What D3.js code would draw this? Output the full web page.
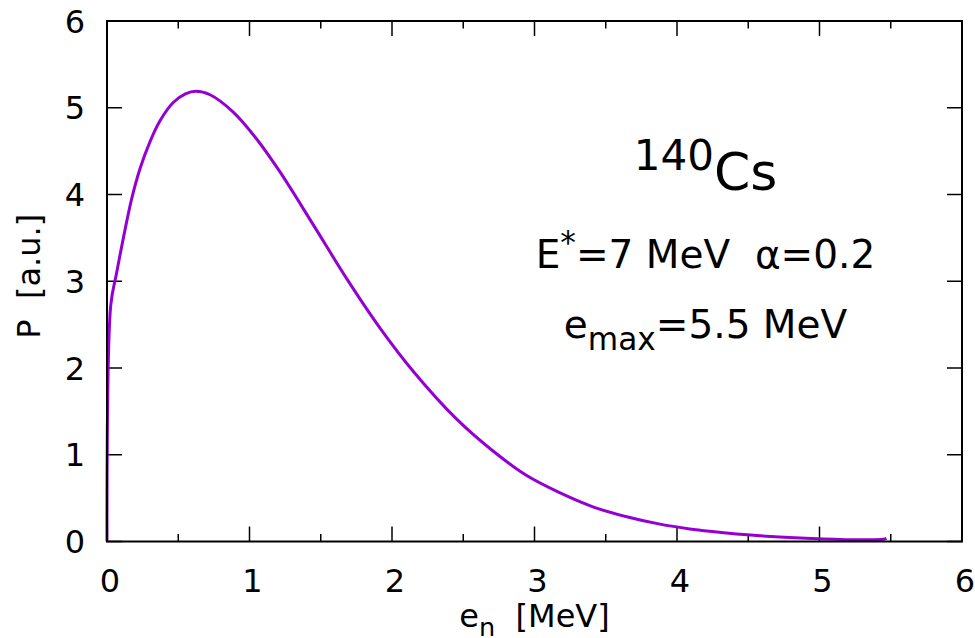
<!DOCTYPE html>
<html>
<head>
<meta charset="utf-8">
<script src="https://cdn.jsdelivr.net/npm/d3@7"></script>
<style>
  html, body { margin: 0; padding: 0; background: #fff; }
  svg { display: block; }
  text { font-family: "DejaVu Sans", sans-serif; fill: #000; white-space: pre; }
</style>
</head>
<body>
<svg id="chart" width="975" height="638"></svg>
<script>
// ---- data ----
const energy = [0, 0.026, 0.068, 0.115, 0.173, 0.232, 0.302, 0.372, 0.465, 0.55, 0.625, 0.723, 0.886, 1.05, 1.214, 1.448, 1.682, 1.916, 2.15, 2.454, 2.711, 2.945, 3.18, 3.41, 3.647, 3.88, 4.09, 4.23, 4.56, 5.03, 5.3, 5.45, 5.47];
const prob   = [0, 2.72, 3.10, 3.50, 3.95, 4.30, 4.61, 4.85, 5.06, 5.16, 5.19, 5.15, 4.95, 4.64, 4.26, 3.65, 3.03, 2.46, 1.96, 1.41, 1.04, 0.76, 0.56, 0.40, 0.285, 0.20, 0.145, 0.118, 0.068, 0.03, 0.02, 0.025, 0.035];
const xTicks = [0, 1, 2, 3, 4, 5, 6];
const xMinorTicks = [0.5, 1.5, 2.5, 3.5, 4.5, 5.5];
const yTicks = [0, 1, 2, 3, 4, 5, 6];
const xDomain = [0, 6];
const yDomain = [0, 6];

const svg = d3.select("#chart");
const W = 975, H = 638;
const m = { left: 107, right: 13, top: 21, bottom: 96.5 };

svg.append("rect").attr("width", W).attr("height", H).attr("fill", "#fff");

const x = d3.scaleLinear().domain(xDomain).range([m.left, W - m.right]);
const y = d3.scaleLinear().domain(yDomain).range([H - m.bottom, m.top]);

const tickFont = 32;
const major = 15, minor = 7.5;
const axisG = svg.append("g").attr("stroke", "#000").attr("stroke-width", 1.5);

// major ticks on all four sides (inward)
xTicks.forEach(t => {
  axisG.append("line").attr("x1", x(t)).attr("x2", x(t)).attr("y1", y.range()[0]).attr("y2", y.range()[0] - major);
  axisG.append("line").attr("x1", x(t)).attr("x2", x(t)).attr("y1", y.range()[1]).attr("y2", y.range()[1] + major);
});
xMinorTicks.forEach(t => {
  axisG.append("line").attr("x1", x(t)).attr("x2", x(t)).attr("y1", y.range()[0]).attr("y2", y.range()[0] - minor);
  axisG.append("line").attr("x1", x(t)).attr("x2", x(t)).attr("y1", y.range()[1]).attr("y2", y.range()[1] + minor);
});
yTicks.forEach(t => {
  axisG.append("line").attr("x1", x.range()[0]).attr("x2", x.range()[0] + major).attr("y1", y(t)).attr("y2", y(t));
  axisG.append("line").attr("x1", x.range()[1]).attr("x2", x.range()[1] - major).attr("y1", y(t)).attr("y2", y(t));
});

// tick labels
svg.append("g").selectAll("text").data(xTicks).join("text")
  .attr("x", d => x(d) + 3).attr("y", y.range()[0] + 50)
  .attr("text-anchor", "middle").attr("font-size", tickFont)
  .text(d => d);
svg.append("g").selectAll("text").data(yTicks).join("text")
  .attr("x", x.range()[0] - 22).attr("y", d => y(d)).attr("dy", "0.36em")
  .attr("text-anchor", "end").attr("font-size", tickFont)
  .text(d => d);

// curve
const line = d3.line()
  .x((d, i) => x(energy[i]))
  .y((d, i) => y(prob[i]))
  .curve(d3.curveCatmullRom.alpha(0.5));
svg.append("path").datum(prob)
  .attr("d", line)
  .attr("fill", "none")
  .attr("stroke", "#9400D3")
  .attr("stroke-width", 3)
  .attr("stroke-linejoin", "round");

// frame
svg.append("rect")
  .attr("x", x.range()[0]).attr("y", y.range()[1])
  .attr("width", x.range()[1] - x.range()[0])
  .attr("height", y.range()[0] - y.range()[1])
  .attr("fill", "none").attr("stroke", "#000").attr("stroke-width", 2);

// axis labels
const xl = svg.append("text")
  .attr("x", (x.range()[0] + x.range()[1]) / 2).attr("y", 627)
  .attr("text-anchor", "middle").attr("font-size", tickFont);
xl.append("tspan").text("e");
xl.append("tspan").attr("font-size", tickFont * 0.8).attr("dy", 9).text("n");
xl.append("tspan").attr("dy", -9).text("  [MeV]");

svg.append("text")
  .attr("transform", `translate(40, ${(y.range()[0] + y.range()[1]) / 2 - 5}) rotate(-90)`)
  .attr("text-anchor", "middle").attr("font-size", tickFont)
  .text("P  [a.u.]");

// annotations
const ax = x(4.2);
const t1 = svg.append("text").attr("x", ax).attr("y", 190).attr("text-anchor", "middle").attr("font-size", 52);
t1.append("tspan").attr("font-size", 42).attr("dy", -20).text("140");
t1.append("tspan").attr("dy", 20).text("Cs");

const annFont = 39;
const t2 = svg.append("text").attr("x", ax).attr("y", 268).attr("text-anchor", "middle").attr("font-size", annFont);
t2.append("tspan").text("E");
t2.append("tspan").attr("font-size", annFont * 0.8).attr("dy", -15).text("*");
t2.append("tspan").attr("dy", 15).text("=7 MeV  α=0.2");

const t3 = svg.append("text").attr("x", ax).attr("y", 338).attr("text-anchor", "middle").attr("font-size", annFont);
t3.append("tspan").text("e");
t3.append("tspan").attr("font-size", annFont * 0.8).attr("dy", 12).text("max");
t3.append("tspan").attr("dy", -12).text("=5.5 MeV");
</script>
</body>
</html>
